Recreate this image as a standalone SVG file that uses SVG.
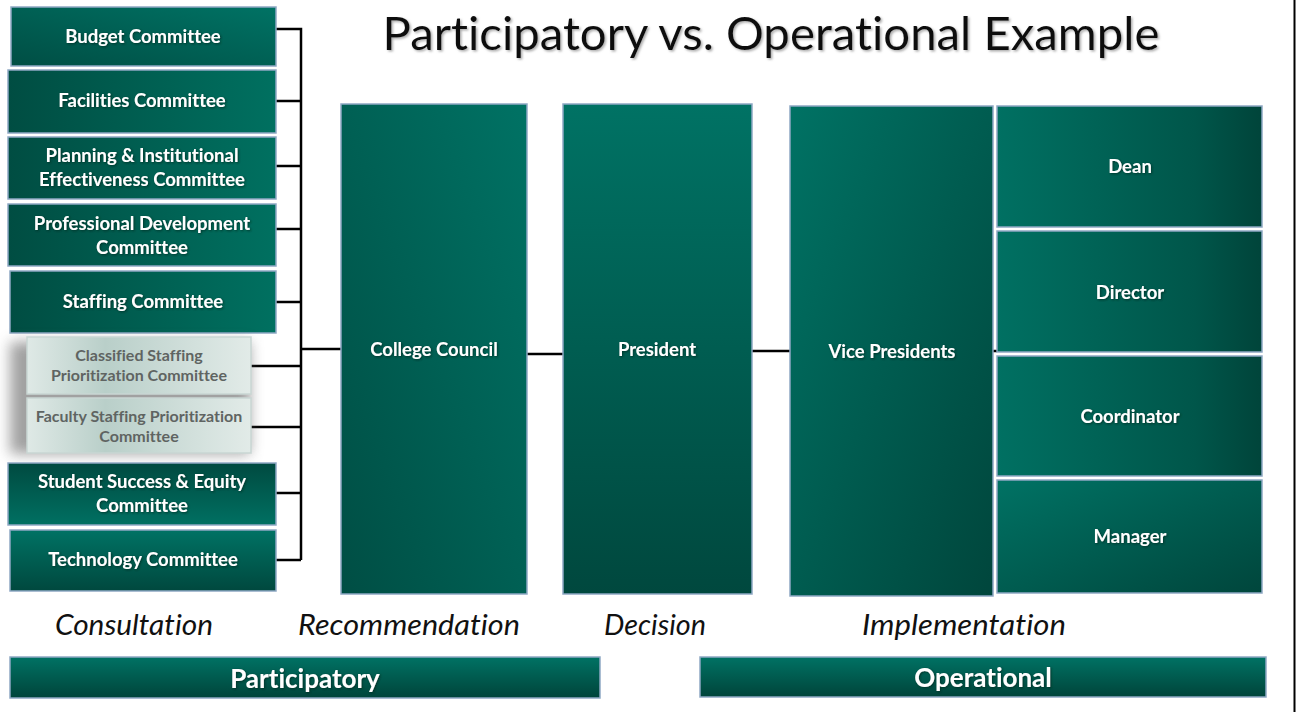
<svg xmlns="http://www.w3.org/2000/svg" width="1296" height="712" viewBox="0 0 1296 712">
<defs>
<linearGradient id="gH" x1="0" y1="0" x2="1" y2="0"><stop offset="0" stop-color="#004d42"/><stop offset="1" stop-color="#007060"/></linearGradient>
<linearGradient id="gHR" x1="0" y1="0" x2="1" y2="0"><stop offset="0" stop-color="#007062"/><stop offset="0.75" stop-color="#00564a"/><stop offset="1" stop-color="#00443a"/></linearGradient>
<linearGradient id="gV" x1="0" y1="0" x2="0" y2="1"><stop offset="0" stop-color="#007264"/><stop offset="1" stop-color="#00483e"/></linearGradient>
<linearGradient id="gVR" x1="0" y1="0" x2="0" y2="1"><stop offset="0" stop-color="#004a40"/><stop offset="1" stop-color="#007062"/></linearGradient>
<linearGradient id="gDTR" x1="1" y1="0" x2="0" y2="1"><stop offset="0" stop-color="#007264"/><stop offset="1" stop-color="#004e44"/></linearGradient>
<linearGradient id="gDTL" x1="0" y1="0" x2="1" y2="1"><stop offset="0" stop-color="#007264"/><stop offset="1" stop-color="#00463c"/></linearGradient>
<linearGradient id="gBar" x1="0" y1="0" x2="0" y2="1"><stop offset="0" stop-color="#007264"/><stop offset="1" stop-color="#00443a"/></linearGradient>
<linearGradient id="gLight" x1="0" y1="0" x2="1" y2="0"><stop offset="0" stop-color="#dfe9e6"/><stop offset="0.35" stop-color="#b9cfc9"/><stop offset="1" stop-color="#e2ebe8"/></linearGradient>
<filter id="blur" x="-30%" y="-30%" width="160%" height="160%"><feGaussianBlur stdDeviation="7"/></filter>
<filter id="ts" x="-10%" y="-30%" width="120%" height="160%"><feDropShadow dx="1" dy="1" stdDeviation="0.8" flood-color="#002a24" flood-opacity="0.8"/></filter>
<filter id="tts" x="-5%" y="-20%" width="110%" height="140%"><feDropShadow dx="1.5" dy="1.5" stdDeviation="1" flood-color="#888" flood-opacity="0.7"/></filter>
</defs>
<style>
text{font-variant-ligatures:none}
.box{stroke:#8ea8c4;stroke-width:1.5}
.lt{stroke:#c9d6d3;stroke-width:1.5}
.t{font-family:Lato,"Liberation Sans",sans-serif;font-weight:bold;font-size:18.5px;fill:#fff;text-anchor:middle}
.tg{font-family:Lato,"Liberation Sans",sans-serif;font-weight:bold;font-size:16px;fill:#5f6462;text-anchor:middle}
.hw{font-family:Lato,"Liberation Sans",sans-serif;font-style:italic;font-size:29px;fill:#111;text-anchor:middle}
.bar{font-family:Lato,"Liberation Sans",sans-serif;font-weight:bold;font-size:26px;fill:#fff;text-anchor:middle}
.c{stroke:#000;stroke-width:2.5;fill:none}
</style>
<rect width="1296" height="712" fill="#fff"/>
<line x1="1294.5" y1="0" x2="1294.5" y2="712" stroke="#000" stroke-width="2"/>
<text x="771" y="50" font-family="Lato,'Liberation Sans',sans-serif" font-size="46" fill="#111" text-anchor="middle" textLength="777" lengthAdjust="spacingAndGlyphs" filter="url(#tts)">Participatory vs. Operational Example</text>

<g id="connectors">
<path class="c" d="M276 29H301V560M276 101H301M276 166H301M276 229H301M276 302H301M251 366H301M251 427H301M276 493H301M276 560H301M301 349H342"/>
<path class="c" d="M527 354H563M752 351H790M993 351H997"/>
</g>

<g id="budget"><rect class="box" x="11" y="7" width="265" height="59" fill="url(#gDTR)"/><text class="t" filter="url(#ts)" x="143" y="43">Budget Committee</text></g>
<g id="facilities"><rect class="box" x="8" y="70" width="268" height="63" fill="url(#gH)"/><text class="t" filter="url(#ts)" x="142" y="107">Facilities Committee</text></g>
<g id="planning"><rect class="box" x="8" y="137" width="268" height="62" fill="url(#gH)"/><text class="t" filter="url(#ts)" x="142" y="162">Planning &amp; Institutional</text><text class="t" filter="url(#ts)" x="142" y="186">Effectiveness Committee</text></g>
<g id="profdev"><rect class="box" x="8" y="204" width="268" height="62" fill="url(#gH)"/><text class="t" filter="url(#ts)" x="142" y="230">Professional Development</text><text class="t" filter="url(#ts)" x="142" y="254">Committee</text></g>
<g id="staffing"><rect class="box" x="10" y="271" width="266" height="62" fill="url(#gH)"/><text class="t" filter="url(#ts)" x="143" y="308">Staffing Committee</text></g>

<rect x="10" y="342" width="240" height="112" fill="#555" opacity="0.55" filter="url(#blur)"/>
<g id="classified"><rect class="lt" x="27" y="337" width="224" height="57" fill="url(#gLight)"/><text class="tg" x="139" y="361">Classified Staffing</text><text class="tg" x="139" y="381">Prioritization Committee</text></g>
<g id="faculty"><rect class="lt" x="27" y="398" width="224" height="55" fill="url(#gLight)"/><text class="tg" x="139" y="422">Faculty Staffing Prioritization</text><text class="tg" x="139" y="442">Committee</text></g>

<g id="student"><rect class="box" x="8" y="463" width="268" height="62" fill="url(#gVR)"/><text class="t" filter="url(#ts)" x="142" y="488">Student Success &amp; Equity</text><text class="t" filter="url(#ts)" x="142" y="512">Committee</text></g>
<g id="technology"><rect class="box" x="10" y="530" width="266" height="61" fill="url(#gV)"/><text class="t" filter="url(#ts)" x="143" y="566">Technology Committee</text></g>

<g id="college-council"><rect class="box" x="341" y="104" width="186" height="490" fill="url(#gDTR)"/><text class="t" filter="url(#ts)" x="434" y="356">College Council</text></g>
<g id="president"><rect class="box" x="563" y="104" width="189" height="490" fill="url(#gV)"/><text class="t" filter="url(#ts)" x="657" y="356">President</text></g>
<g id="vice-presidents"><rect class="box" x="790" y="106" width="203" height="490" fill="url(#gDTL)"/><text class="t" filter="url(#ts)" x="892" y="358">Vice Presidents</text></g>
<g id="dean"><rect class="box" x="997" y="106" width="265" height="121" fill="url(#gHR)"/><text class="t" filter="url(#ts)" x="1130" y="173">Dean</text></g>
<g id="director"><rect class="box" x="997" y="231" width="265" height="121" fill="url(#gHR)"/><text class="t" filter="url(#ts)" x="1130" y="299">Director</text></g>
<g id="coordinator"><rect class="box" x="997" y="356" width="265" height="120" fill="url(#gHR)"/><text class="t" filter="url(#ts)" x="1130" y="423">Coordinator</text></g>
<g id="manager"><rect class="box" x="997" y="480" width="265" height="113" fill="url(#gDTL)"/><text class="t" filter="url(#ts)" x="1130" y="543">Manager</text></g>

<g id="labels">
<text class="hw" x="134" y="635" textLength="158" lengthAdjust="spacingAndGlyphs">Consultation</text>
<text class="hw" x="409" y="635" textLength="222" lengthAdjust="spacingAndGlyphs">Recommendation</text>
<text class="hw" x="655" y="635" textLength="102" lengthAdjust="spacingAndGlyphs">Decision</text>
<text class="hw" x="964" y="635" textLength="204" lengthAdjust="spacingAndGlyphs">Implementation</text>
</g>
<g id="participatory"><rect class="box" x="10" y="657" width="590" height="41" fill="url(#gBar)"/><text class="bar" filter="url(#ts)" x="305" y="688">Participatory</text></g>
<g id="operational"><rect class="box" x="700" y="657" width="566" height="40" fill="url(#gBar)"/><text class="bar" filter="url(#ts)" x="983" y="687">Operational</text></g>
</svg>
